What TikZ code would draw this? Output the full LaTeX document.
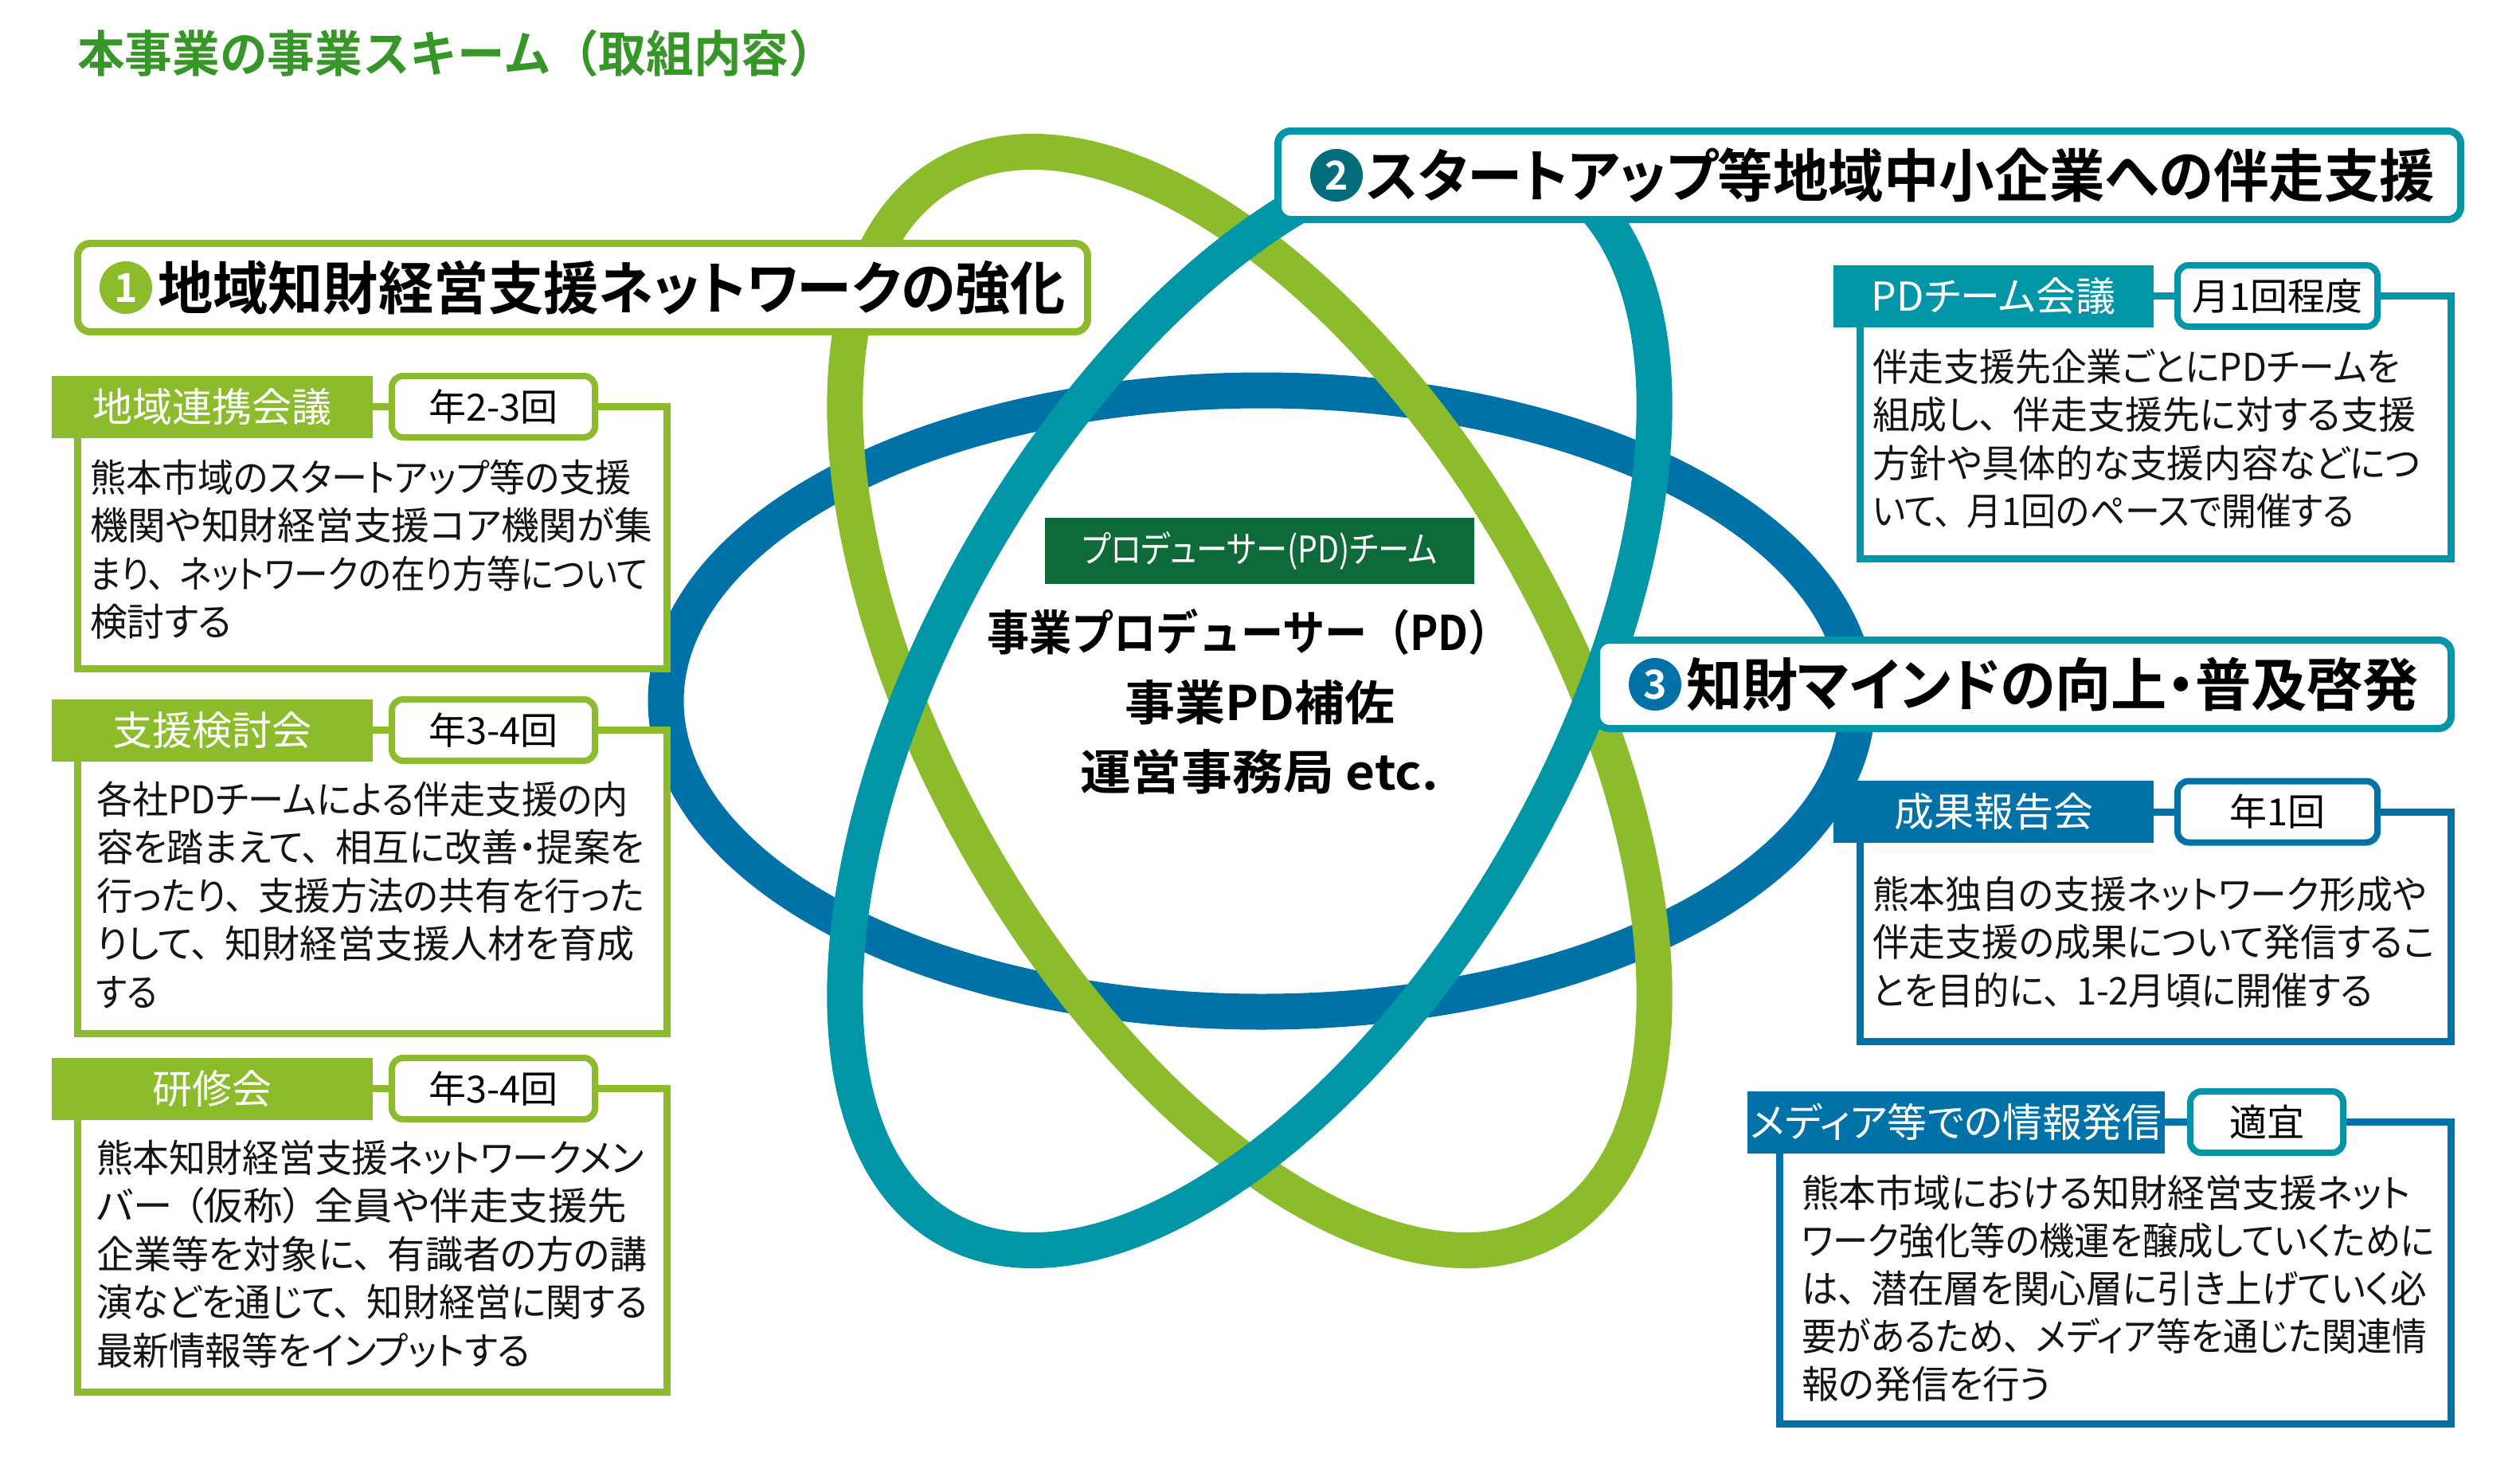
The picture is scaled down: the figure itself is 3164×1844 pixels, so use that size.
\documentclass[tikz,border=0pt]{standalone}
\usepackage{fontspec}
\usepackage{graphicx}
\newfontfamily\jp{Noto Sans CJK JP}[RawFeature=+palt, BoldFont={Noto Sans CJK JP Bold}]
\newfontfamily\jpf{Noto Sans CJK JP}[BoldFont={Noto Sans CJK JP Bold}]
\definecolor{lime}{RGB}{140,187,44}
\definecolor{cteal}{RGB}{0,150,168}
\definecolor{cblue}{RGB}{0,114,168}
\definecolor{dteal}{RGB}{0,108,124}
\definecolor{dgreen}{RGB}{14,106,56}
\definecolor{tgreen}{RGB}{55,150,40}
\newlength\fitw
\newcommand\fitx[2]{\settowidth\fitw{#2}\pgfmathsetmacro\fitr{#1/\fitw}\scalebox{\fitr}[1]{#2}}
\newcommand\tou{、\hspace{0.42em}}
\begin{document}
\begin{tikzpicture}[x=1pt,y=-1pt,
  every node/.style={inner sep=0pt, outer sep=0pt},
  ring/.style={line width=45pt},
  headbox/.style={draw=#1, line width=9pt, fill=white, rounded corners=16pt, minimum height=111pt},
  numc/.style={circle, fill=#1, minimum size=66pt, text=white, font=\jp\bfseries\fontsize{50}{50}\selectfont},
  headtxt/.style={anchor=west, font=\jp\bfseries\fontsize{72}{72}\selectfont, text=black},
  lab/.style={fill=#1, text=white, minimum height=78pt, font=\jp\fontsize{50}{50}\selectfont},
  freq/.style={draw=#1, line width=8pt, fill=white, rounded corners=14pt, minimum height=77pt, font=\jp\fontsize{47}{47}\selectfont},
  bodyr/.style={draw=#1, line width=9pt, fill=white},
  btxt/.style={anchor=base west, font=\jp\fontsize{48}{60}\selectfont, text=black!92},
  ctxt/.style={font=\jpf\bfseries\fontsize{60}{60}\selectfont, text=black},
]
\useasboundingbox (0,0) rectangle (3164,1844);
\fill[white] (0,0) rectangle (3164,1844);

% rings
\draw[ring, cblue] (1584,880) ellipse [x radius=748pt, y radius=390pt];
\draw[ring, lime, rotate around={-60:(1569,880)}] (1569,880) ellipse [x radius=764pt, y radius=387pt];
\draw[ring, cteal, rotate around={60:(1569,880)}] (1569,880) ellipse [x radius=764pt, y radius=387pt];

% title
\node[anchor=west, font=\jpf\bfseries\fontsize{62}{62}\selectfont, text=tgreen] (title) at (97,67) {\fitx{953}{本事業の事業スキーム（取組内容）}};

% heading boxes
\node[headbox=lime, minimum width=1268pt] (h1) at (731.5,361) {};
\node[numc=lime] (n1) at (158,361) {1};
\node[headtxt] (t1) at (198,361) {\fitx{1140}{地域知財経営支援ネットワークの強化}};

\node[headbox=cteal, minimum width=1485pt] (h2) at (2347,220) {};
\node[numc=dteal] (n2) at (1678,220) {2};
\node[headtxt] (t2) at (1715,220) {\fitx{1342}{スタートアップ等地域中小企業への伴走支援}};

\node[headbox=cteal, minimum width=1073pt] (h3) at (2541,859) {};
\node[numc=cblue] (n3) at (2078,859) {3};
\node[headtxt] (t3) at (2117,859) {\fitx{920}{知財マインドの向上・普及啓発}};

% centre
\node[fill=dgreen, minimum width=539pt, minimum height=83pt, text=white, font=\jp\fontsize{46}{46}\selectfont] (pd) at (1581.5,691.5) {\fitx{446}{プロデューサー(PD)チーム}};
\node[ctxt] (cA) at (1568,793) {\fitx{658}{事業プロデューサー（PD）}};
\node[ctxt] (cB) at (1582,882) {\fitx{339}{事業PD補佐}};
\node[ctxt] (cC) at (1581,969) {\fitx{450}{運営事務局 etc.}};

% left boxes
\node[bodyr=lime, minimum width=740pt, minimum height=329pt] (r1) at (467.5,675) {};
\node[lab=lime, minimum width=403pt] (l1) at (266.5,510.5) {地域連携会議};
\node[freq=lime, minimum width=255pt] (f1) at (619.5,510.5) {年2-3回};
\foreach \w/\t [count=\i from 0] in {680/熊本市域のスタートアップ等の支援,706/機関や知財経営支援コア機関が集,700/まり\tou ネットワークの在り方等について,178/検討する}
  \node[btxt] (a\i) at (113,{617+60.5*\i}) {\fitx{\w}{\t}};

\node[bodyr=lime, minimum width=740pt, minimum height=381pt] (r2) at (467.5,1107) {};
\node[lab=lime, minimum width=403pt] (l2) at (266.5,916.5) {支援検討会};
\node[freq=lime, minimum width=255pt] (f2) at (619.5,916.5) {年3-4回};
\foreach \w/\t [count=\i from 0] in {668/各社PDチームによる伴走支援の内,688/容を踏まえて\tou 相互に改善・提案を,688/行ったり\tou 支援方法の共有を行った,676/りして\tou 知財経営支援人材を育成,77/する}
  \node[btxt] (b\i) at (121,{1021+60.5*\i}) {\fitx{\w}{\t}};

\node[bodyr=lime, minimum width=740pt, minimum height=381pt] (r3) at (467.5,1557) {};
\node[lab=lime, minimum width=403pt] (l3) at (266.5,1366.5) {研修会};
\node[freq=lime, minimum width=255pt] (f3) at (619.5,1366.5) {年3-4回};
\foreach \w/\t [count=\i from 0] in {688/熊本知財経営支援ネットワークメン,666/バー\hspace{0.3em}（仮称）\hspace{0.3em}全員や伴走支援先,692/企業等を対象に\tou 有識者の方の講,692/演などを通じて\tou 知財経営に関する,545/最新情報等をインプットする}
  \node[btxt] (c\i) at (121,{1471+60.5*\i}) {\fitx{\w}{\t}};

% right boxes
\node[bodyr=cteal, minimum width=742pt, minimum height=330pt] (r4) at (2706.5,536.5) {};
\node[lab=cteal, minimum width=402pt] (l4) at (2503,371.5) {PDチーム会議};
\node[freq=cteal, minimum width=251pt] (f4) at (2859.5,371.5) {月1回程度};
\foreach \w/\t [count=\i from 0] in {662/伴走支援先企業ごとにPDチームを,682/組成し\tou 伴走支援先に対する支援,688/方針や具体的な支援内容などにつ,605/いて\tou 月1回のペースで開催する}
  \node[btxt] (d\i) at (2351,{478+60.5*\i}) {\fitx{\w}{\t}};

\node[bodyr=cblue, minimum width=742pt, minimum height=288.5pt] (r5) at (2706.5,1163.25) {};
\node[lab=cblue, minimum width=402pt] (l5) at (2503,1019) {成果報告会};
\node[freq=cblue, minimum width=251pt] (f5) at (2859.5,1019) {年1回};
\foreach \w/\t [count=\i from 0] in {696/熊本独自の支援ネットワーク形成や,706/伴走支援の成果について発信するこ,628/とを目的に\tou 1-2月頃に開催する}
  \node[btxt] (e\i) at (2351,{1140+60.5*\i}) {\fitx{\w}{\t}};

\node[bodyr=cblue, minimum width=843pt, minimum height=379pt] (r6) at (2656,1598) {};
\node[lab=cblue, minimum width=524pt] (l6) at (2456,1408.5) {メディア等での情報発信};
\node[freq=cteal, minimum width=192pt] (f6) at (2846,1408.5) {適宜};
\foreach \w/\t [count=\i from 0] in {765/熊本市域における知財経営支援ネット,795/ワーク強化等の機運を醸成していくために,785/は\tou 潜在層を関心層に引き上げていく必,785/要があるため\tou メディア等を通じた関連情,313/報の発信を行う}
  \node[btxt] (g\i) at (2262,{1515+60*\i}) {\fitx{\w}{\t}};
\end{tikzpicture}
\end{document}
